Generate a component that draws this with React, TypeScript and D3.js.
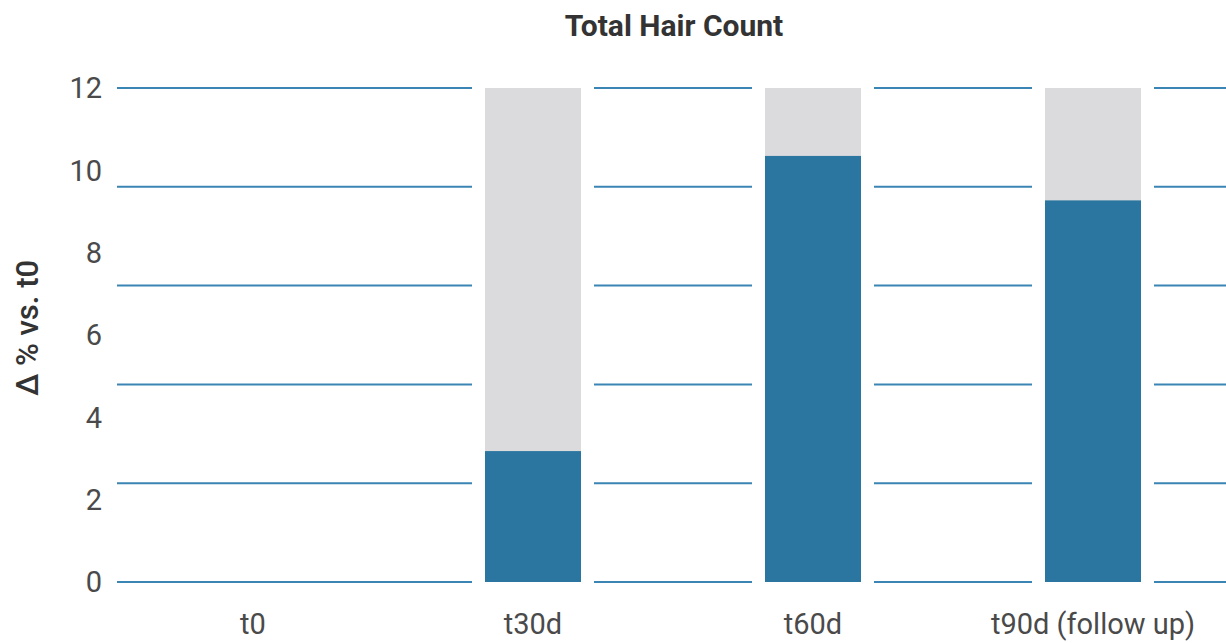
import React from "react";
import * as d3 from "d3";

const categories = ["t0", "t30d", "t60d", "t90d (follow up)"];
const values = [0, 3.18, 10.35, 9.27];
const backgroundMax = 12;
const yTicks = [0, 2, 4, 6, 8, 10, 12];
const gridValues = [0, 2.4, 4.8, 7.2, 9.6, 12];

const W = 1226;
const H = 643;
const FONT = "Roboto, 'Noto Sans', sans-serif";

export default function App() {
  const x = d3.scaleBand<string>().domain(categories).range([113, 1233]).paddingInner(0).paddingOuter(0);
  const y = d3.scaleLinear().domain([0, 12]).range([582, 88]);
  const barW = 96;
  const gap = 13;

  const barsWithData = categories
    .map((c, i) => ({ c, v: values[i] }))
    .filter((d) => d.v > 0)
    .map((d) => {
      const cx = (x(d.c) as number) + x.bandwidth() / 2;
      return [cx - barW / 2 - gap, cx + barW / 2 + gap];
    });
  const segs: [number, number][] = [];
  let start = 117;
  barsWithData.forEach(([a, b]) => {
    segs.push([start, a]);
    start = b;
  });
  segs.push([start, W]);

  return (
    <svg width={W} height={H} style={{ position: "absolute", left: 0, top: 0, background: "#fff" }}>
      <text x={674} y={36} textAnchor="middle" fontFamily={FONT} fontWeight={700} fontSize={30} fill="#333">
        Total Hair Count
      </text>
      {gridValues.map((g) =>
        segs.map(([a, b], k) => (
          <line key={g + "-" + k} x1={a} x2={b} y1={y(g)} y2={y(g)} stroke="#3a85b3" strokeWidth={2} />
        ))
      )}
      {categories.map((c, i) => {
        const cx = (x(c) as number) + x.bandwidth() / 2;
        if (values[i] <= 0) return null;
        return (
          <g key={c}>
            <rect x={cx - barW / 2} y={y(backgroundMax)} width={barW} height={y(0) - y(backgroundMax)} fill="#dbdbdd" />
            <rect x={cx - barW / 2} y={y(values[i])} width={barW} height={y(0) - y(values[i])} fill="#2a76a0" />
          </g>
        );
      })}
      {yTicks.map((t, i) => (
        <text
          key={t}
          x={102}
          y={582 - (i * (582 - 88)) / (yTicks.length - 1)}
          dy="0.36em"
          textAnchor="end"
          fontFamily={FONT}
          fontSize={29}
          fill="#4a4a4a"
        >
          {t}
        </text>
      ))}
      {categories.map((c) => (
        <text
          key={c}
          x={(x(c) as number) + x.bandwidth() / 2}
          y={634}
          textAnchor="middle"
          fontFamily={FONT}
          fontSize={29}
          fill="#4a4a4a"
        >
          {c}
        </text>
      ))}
      <text
        transform={`translate(38,${328}) rotate(-90)`}
        textAnchor="middle"
        fontFamily={FONT}
        fontWeight={500}
        fontSize={31}
        fill="#333"
      >
        Δ % vs. t0
      </text>
    </svg>
  );
}
